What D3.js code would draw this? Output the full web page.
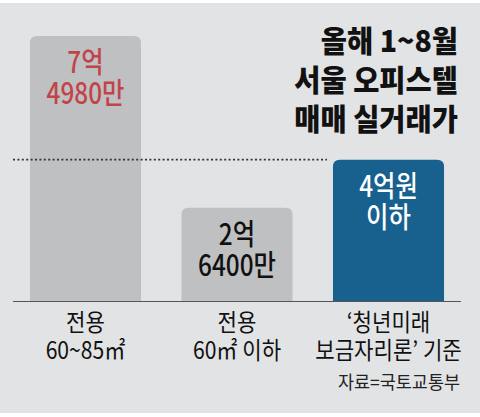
<!DOCTYPE html>
<html>
<head>
<meta charset="utf-8">
<script src="https://cdn.jsdelivr.net/npm/d3@7"></script>
<style>
  body { margin: 0; background: #fff; }
  svg { display: block; }
  text { font-family: "Noto Sans CJK KR", "Noto Sans", sans-serif; }
</style>
</head>
<body>
<svg id="chart"></svg>
<script>
// data
const categories = ["전용 60~85㎡", "전용 60㎡ 이하", "'청년미래 보금자리론' 기준"];
const catLines = [["전용", "60~85㎡"], ["전용", "60㎡ 이하"], ["‘청년미래", "보금자리론’ 기준"]];
const values = [7.498, 2.64, 4.0]; // 억원
const valueLabels = [["7억", "4980만"], ["2억", "6400만"], ["4억원", "이하"]];
const refValue = 4.0;
const titleLines = ["올해 1~8월", "서울 오피스텔", "매매 실거래가"];
const source = "자료=국토교통부";

const W = 480, H = 417;
const svg = d3.select("#chart").attr("width", W).attr("height", H);

svg.append("rect").attr("x", 0).attr("y", 3).attr("width", W).attr("height", 410).attr("fill", "#e2e3e5");

const baseY = 301;
const x = d3.scaleBand().domain(categories).range([13, 461]).paddingInner(0.267).paddingOuter(0.112);
const y = d3.scaleLinear().domain([0, 7.498]).range([baseY, 36]);

const barFill = ["#bfc0c2", "#bfc0c2", "#18618f"];
const labelFill = ["#c1444a", "#111", "#fff"];
const r = 7;

function barPath(x0, x1, yt, yb) {
  return `M${x0},${yb}V${yt + r}Q${x0},${yt} ${x0 + r},${yt}H${x1 - r}Q${x1},${yt} ${x1},${yt + r}V${yb}Z`;
}

svg.selectAll(".bar").data(values).enter().append("path")
  .attr("class", "bar")
  .attr("d", (d, i) => barPath(x(categories[i]), x(categories[i]) + x.bandwidth(), y(d), baseY))
  .attr("fill", (d, i) => barFill[i]);

// reference dotted line
svg.append("line")
  .attr("x1", 13).attr("x2", 327)
  .attr("y1", y(refValue)).attr("y2", y(refValue))
  .attr("stroke", "#333").attr("stroke-width", 1.6)
  .attr("stroke-dasharray", "2,2.4");

// baseline
svg.append("line").attr("x1", 13).attr("x2", 461).attr("y1", baseY + 0.5).attr("y2", baseY + 0.5)
  .attr("stroke", "#555").attr("stroke-width", 1.2);

// multi-line text helper
function block(tx, ty, sx, lines, lh, size, weight, fill, anchor) {
  const t = svg.append("text")
    .attr("transform", `translate(${tx},${ty}) scale(${sx},1)`)
    .attr("text-anchor", anchor)
    .attr("font-size", size).attr("font-weight", weight)
    .attr("fill", fill);
  lines.forEach((s, j) => {
    t.append("tspan").attr("x", 0).attr("y", j * lh).text(s);
  });
}

// value labels
valueLabels.forEach((lines, i) => {
  const cx = x(categories[i]) + x.bandwidth() / 2;
  block(cx, y(values[i]) + 37, 0.84, lines, 31, 29, 500, labelFill[i], "middle");
});

// category labels
catLines.forEach((lines, i) => {
  const cx = x(categories[i]) + x.bandwidth() / 2;
  block(cx, 331, 0.88, lines, 28, 24, 400, "#111", "middle");
});

// title
block(458, 52, 0.95, titleLines, 39, 30, 900, "#111", "end");

block(460, 389, 0.97, [source], 0, 18, 400, "#222", "end");
</script>
</body>
</html>
